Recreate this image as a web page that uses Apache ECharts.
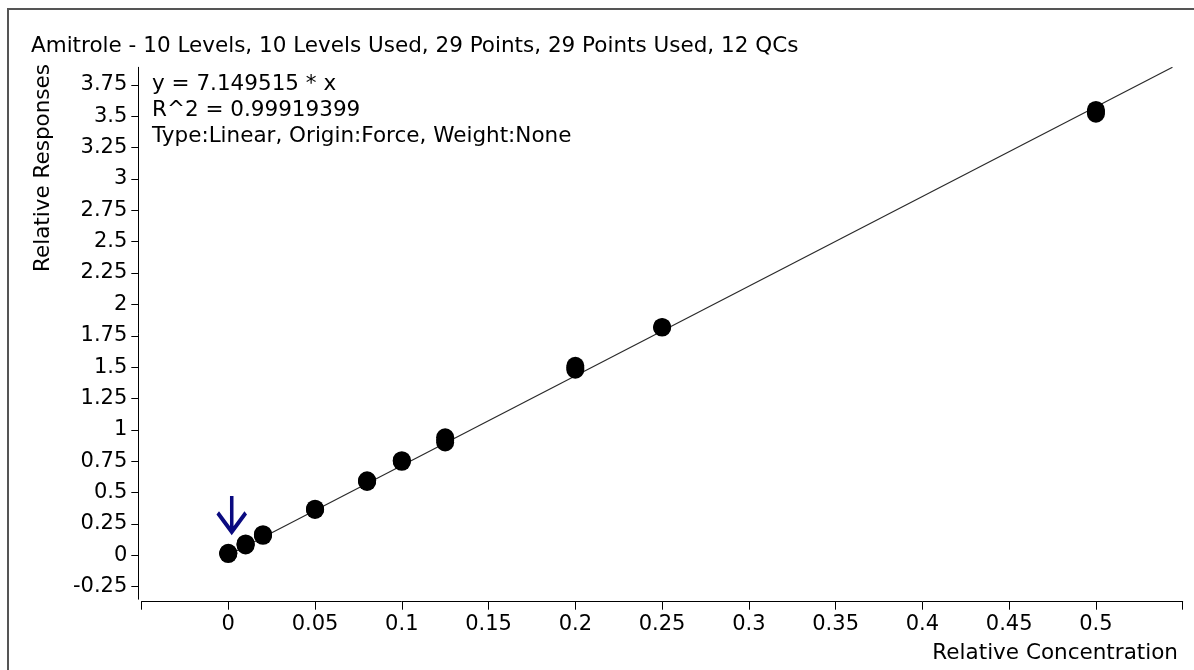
<!DOCTYPE html>
<html>
<head>
<meta charset="utf-8">
<script src="https://cdn.jsdelivr.net/npm/echarts@6/dist/echarts.min.js"></script>
<style>
html,body{margin:0;padding:0;background:#fff;}
#chart{width:1194px;height:670px;}
</style>
</head>
<body>
<div id="chart"></div>
<script>
// ---- data ----
const titleText = 'Amitrole - 10 Levels, 10 Levels Used, 29 Points, 29 Points Used, 12 QCs';
const fitLines = ['y = 7.149515 * x', 'R^2 = 0.99919399', 'Type:Linear, Origin:Force, Weight:None'];
const xName = 'Relative Concentration';
const yName = 'Relative Responses';

const concentrations = [
  0, 0, 0,
  0.01, 0.01, 0.01,
  0.02, 0.02, 0.02,
  0.05, 0.05, 0.05,
  0.08, 0.08, 0.08,
  0.1, 0.1, 0.1,
  0.125, 0.125, 0.125,
  0.2, 0.2, 0.2,
  0.25, 0.25,
  0.5, 0.5, 0.5
];
const responses = [
  0.010, 0.016, 0.020,
  0.078, 0.088, 0.095,
  0.155, 0.162, 0.168,
  0.362, 0.367, 0.372,
  0.585, 0.592, 0.598,
  0.745, 0.752, 0.758,
  0.900, 0.920, 0.940,
  1.480, 1.495, 1.510,
  1.815, 1.820,
  3.520, 3.535, 3.550
];
// fitted line y = 7.149515 * x, drawn from origin to the top of the plot
const fitLineX = [0, 0.5441];
const fitLineY = [0, 3.89];
// arrow marker position (data coords)
const arrowX = [0.002];
const arrowY = [0.33];

const xTicks = [0, 0.05, 0.1, 0.15, 0.2, 0.25, 0.3, 0.35, 0.4, 0.45, 0.5];
const xTickMarks = [-0.05, 0, 0.05, 0.1, 0.15, 0.2, 0.25, 0.3, 0.35, 0.4, 0.45, 0.5, 0.55];
const yTicks = [-0.25, 0, 0.25, 0.5, 0.75, 1, 1.25, 1.5, 1.75, 2, 2.25, 2.5, 2.75, 3, 3.25, 3.5, 3.75];

// ---- chart ----
const FONT = 'DejaVu Sans';
const chart = echarts.init(document.getElementById('chart'));
const points = concentrations.map((c, i) => [c, responses[i]]);
const lineData = fitLineX.map((x, i) => [x, fitLineY[i]]);
const arrowData = arrowX.map((x, i) => [x, arrowY[i]]);

chart.setOption({
  animation: false,
  backgroundColor: '#fff',
  title: {
    text: titleText,
    left: 31, top: 35, padding: 0,
    textStyle: {fontFamily: FONT, fontSize: 21.5, fontWeight: 'normal', color: '#000'}
  },
  grid: {left: 141.5, right: 11.3, top: 67.3, bottom: 70.8, containLabel: false},
  xAxis: {
    type: 'value', min: -0.05, max: 0.55, interval: 0.05, offset: 2.5,
    axisLine: {onZero: false, lineStyle: {color: '#000', width: 1}},
    axisTick: {show: true, length: 8, inside: false, customValues: xTickMarks, lineStyle: {color: '#000'}},
    axisLabel: {customValues: xTicks, margin: 12, fontFamily: FONT, fontSize: 21, color: '#000'},
    splitLine: {show: false}
  },
  yAxis: {
    type: 'value', min: -0.35, max: 3.89, offset: 3.2,
    axisLine: {show: true, onZero: false, lineStyle: {color: '#000', width: 1}},
    axisTick: {show: true, length: 7, inside: false, customValues: yTicks, lineStyle: {color: '#000'}},
    axisLabel: {customValues: yTicks, margin: 11, fontFamily: FONT, fontSize: 21, color: '#000'},
    splitLine: {show: false}
  },
  series: [
    {
      type: 'line', data: lineData, symbol: 'none', silent: true,
      lineStyle: {color: '#2a2a2a', width: 1.2}, z: 1
    },
    {
      type: 'scatter', data: points, symbol: 'circle', symbolSize: 18,
      itemStyle: {color: '#000', opacity: 1}, z: 2
    },
    {
      type: 'scatter', data: arrowData,
      symbol: 'path://M14 0 L14 36 M0 17 L14 36 L28 17',
      symbolSize: [28, 36],
      itemStyle: {color: 'rgba(0,0,0,0)', borderColor: '#0a0a80', borderWidth: 4, opacity: 1}, z: 3
    }
  ],
  graphic: [
    {type: 'polyline', shape: {points: [[8, 680], [8, 9], [1200, 9]]}, style: {fill: 'none', stroke: '#555', lineWidth: 2}, silent: true},
    {type: 'text', x: 152, y: 84, style: {text: fitLines[0], fontFamily: FONT, fontSize: 21.5, fill: '#000', verticalAlign: 'middle'}},
    {type: 'text', x: 152, y: 110, style: {text: fitLines[1], fontFamily: FONT, fontSize: 21.5, fill: '#000', verticalAlign: 'middle'}},
    {type: 'text', x: 152, y: 136, style: {text: fitLines[2], fontFamily: FONT, fontSize: 21.5, fill: '#000', verticalAlign: 'middle'}},
    {type: 'text', x: 1178, y: 653, style: {text: xName, fontFamily: FONT, fontSize: 21.5, fill: '#000', align: 'right', verticalAlign: 'middle'}},
    {type: 'text', x: 43, y: 168, rotation: Math.PI / 2, style: {text: yName, fontFamily: FONT, fontSize: 21.5, fill: '#000', align: 'center', verticalAlign: 'middle'}}
  ]
});
</script>
</body>
</html>
